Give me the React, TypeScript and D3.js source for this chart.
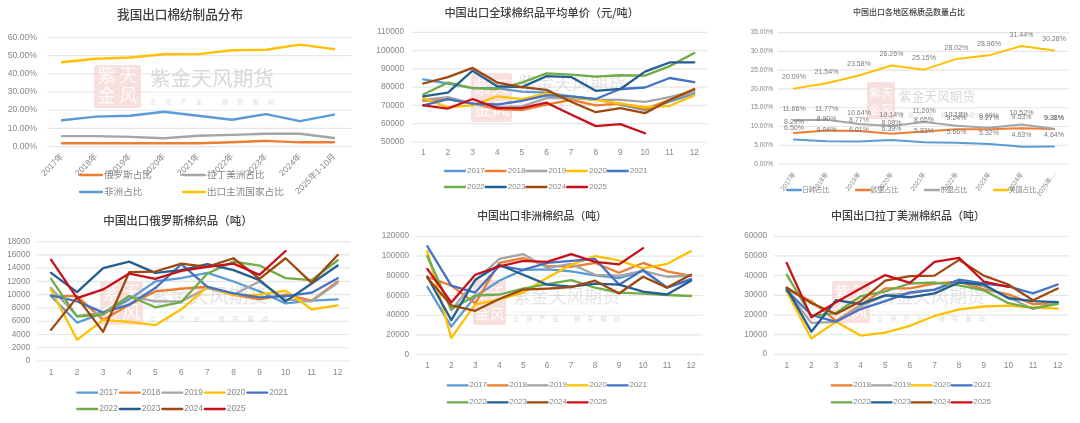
import React from 'react';
import * as d3 from 'd3';

const FONT = '"Liberation Sans", "Noto Sans CJK SC", sans-serif';
const NARROW = '"Liberation Sans Narrow", "Liberation Sans", "Noto Sans CJK SC", sans-serif';

const months = ['1','2','3','4','5','6','7','8','9','10','11','12'];
const years9 = ['2017年','2018年','2019年','2020年','2021年','2022年','2023年','2024年','2025年1-10月'];
const years9b = ['2017年','2018年','2019年','2020年','2021年','2022年','2023年','2024年','2025年…'];

const shareNames = ['俄罗斯占比','拉丁美洲占比','非洲占比','出口主流国家占比'];
const shareRussia = [1.9,1.9,1.9,1.9,1.9,2.4,3.2,2.4,2.4];
const shareLatam = [5.8,5.8,5.4,4.6,6,6.5,7.1,7.1,4.8];
const shareAfrica = [14.5,16.5,17,19.2,17,14.8,17.9,14,17.6];
const shareMain = [46.3,48.2,48.9,50.7,50.8,52.9,53.2,56,53.5];

const priceSeries = [
  [84.3,82,79.5,79.5,77.5,77,75,73.5,70.5,67.5,72,76.5],
  [72.5,73.5,71,68,67.5,70.5,73,70,71,68,73,78],
  [73,74.5,71,69,69.5,74,74,73,73,72,74.5,78],
  [74,69,70,75,73.5,76.5,74.5,73,71,69,69.8,75.5],
  [70,73.5,71,70.5,72.5,75.5,75,73.5,79,79.8,85,82.8],
  [76,82.5,79.5,79,82.5,87.5,86.8,85.8,86.5,86.3,91.5,98.7],
  [75,77,89,80.5,80,86,85.5,78,79,88.5,93.5,93.5],
  [82,85.5,90.5,82.5,80,78.5,72,66.3,68.5,65.8,73,79],
  [70,68.3,73.5,68.5,68.5,71.5,65,58.7,59.8,54.8],
];

const regionNames = ['日韩占比','欧盟占比','东盟占比','美国占比'];
const regionJapanKorea = [6.5,6.04,6.01,6.39,5.83,5.66,5.32,4.63,4.64];
const regionEU = [8.29,8.9,8.77,8.08,8.65,9.24,9.27,9.53,9.31];
const regionAsean = [11.66,11.77,10.64,10.14,11.2,10.18,9.69,10.52,9.38];
const regionUS = [20.09,21.54,23.58,26.26,25.15,28.02,28.96,31.44,30.28];

const russiaSeries = [
  [9.8,5.8,7.2,9.3,12,12.5,13.3,12,10.5,8.7,9.1,9.3],
  [9.8,9.8,6.2,8.5,10.5,10.9,11.2,10,9.3,10,9.1,12],
  [11,6.8,7.3,9.8,9,9,11,10,12,9.3,9,11.8],
  [10.8,3.2,6.2,5.9,5.4,7.8,11.2,9.9,10,10.6,7.8,8.4],
  [9.9,9,7.3,8.5,11,14.6,11.2,10.2,9.6,9.8,10.3,12.5],
  [12.4,6.7,7,9.8,8.1,8.9,13.2,15,14.4,12.5,12.2,15.2],
  [13.3,10.4,14,15,13.3,13.7,14.6,13.7,12.2,9,11.7,14.4],
  [4.7,9.6,4.4,13.4,13.5,14.7,14.2,15.5,12.4,15.5,11.8,16],
  [15.3,9.5,10.8,13.2,12.4,13.6,14.2,14.7,13,16.6],
];
const africaSeries = [
  [69,28.5,59,75,86,86.5,84.5,80.5,77.5,85,68,77],
  [79,70,52,93,98,90,89,93,83,93,84.5,80],
  [100,45,75,97,102,88,92,81,80,85,79,80],
  [105,17,51,56,63,78,91,100,95.5,87.5,92,105],
  [110,70,63,90,86,93,95,97,71,86,68,76],
  [100,46,60,61,67,71.5,75.5,68,63,62,60.5,59.5],
  [79,35,76,91,81,71,69,72,71,64,61,75],
  [78,50,44.5,56.5,66,67,68.5,75,62,79,68,81],
  [87,53,81,89.5,95,94,102,94,91.5,108],
];
const latamSeries = [
  [33,27,17,25,33.5,33.5,36,37,33,30.5,25.5,26],
  [32.5,16,16.5,24.5,30,31,33,37,34.5,29,23,26.5],
  [32,8,16.5,9.5,11,14.5,19.5,22.8,24.3,24.8,23.8,23.2],
  [32.5,20,16.5,23,27,31.5,32.8,38,36,34.5,31,35.5],
  [40.5,19.5,21,29.5,32,36,36.5,35,32.5,26,23.5,25.5],
  [33.5,11.5,27.5,25.5,30,29,31,36.5,35.5,28.5,27,26.5],
  [34,26,20.5,27,37.5,39.7,40,48,40,35.5,27.5,33.5],
  [46.5,18.8,26.5,33.5,40.3,36.3,47,49,37,34.3],
];

const yearNames = ['2017','2018','2019','2020','2021','2022','2023','2024','2025'];
const yearColors = ['#5B9BD5','#ED7D31','#A5A5A5','#FFC000','#4472C4','#70AD47','#255E91','#9E480E','#C8101A'];
const officeColors = ['#5B9BD5','#ED7D31','#A5A5A5','#FFC000'];
const shareColors = ['#ED7D31','#A5A5A5','#5B9BD5','#FFC000'];

const TICK = '#878787';
const GRID = '#e6e6e6';

function Watermark({ sx, sy, sw, sh, tx, tw, ty, subY, front }: any) {
  const fs = Math.min(sw, sh) * 0.42;
  return (
    <g style={{ pointerEvents: 'none' }}>
      <rect x={sx} y={sy} width={sw} height={sh} rx={2} fill="#f3d3d0" opacity={0.7} />
      {[['紫', 0, 0], ['天', 1, 0], ['金', 0, 1], ['风', 1, 1]].map(([c, i, j]: any) => (
        <text key={c} x={sx + sw * (0.27 + 0.46 * i)} y={sy + sh * (0.4 + 0.46 * j)} fontSize={fs}
          textAnchor="middle" fill="#fff" opacity={0.9} fontFamily='"Noto Sans CJK SC"' fontWeight={400}>{c}</text>
      ))}
      <text x={tx} y={ty} fontSize={tw / 6} fill="#cfcfcf" opacity={front ? 0.55 : 0.8} textLength={tw}
        fontFamily='"Noto Sans CJK SC"' fontWeight={400}>紫金天风期货</text>
      <line x1={tx} x2={tx + tw} y1={subY - 9} y2={subY - 9} stroke="#eeeeee" strokeWidth={0.7} />
      <text x={tx} y={subY} fontSize={6} fill="#d2d2d2" opacity={0.85} textLength={tw}
        fontFamily='"Noto Sans CJK SC"'>立足产业 研究驱动</text>
    </g>
  );
}

function Panel(p: any) {
  const x = d3.scalePoint<string>().domain(p.cats).range([p.x0, p.x1]);
  const y = d3.scaleLinear().domain(p.domain).range([p.yBottom, p.yTop]);
  const line = d3.line<number>().x((_, i) => x(p.cats[i]) as number).y((v) => y(v * p.unit));
  const ticks = d3.range(p.domain[0], p.domain[1] + p.step / 2, p.step);
  return (
    <g fontFamily={FONT}>
      <text x={p.titleX} y={p.titleY} fontSize={p.titleSize} fill="#404040" textAnchor="middle"
        dominantBaseline="middle" fontWeight={500} fontFamily='"Noto Sans CJK SC"'>{p.title}</text>
      {ticks.map((t: number) => (
        <g key={t}>
          <line x1={p.gridX0} x2={p.gridX1} y1={y(t)} y2={y(t)} stroke={GRID} strokeWidth={1.2} />
          <text x={p.tickX} y={y(t)} textAnchor="end" dominantBaseline="middle" fontSize={p.tickSize}
            fill={TICK} fontFamily={p.narrow ? NARROW : FONT}>{p.fmt(t)}</text>
        </g>
      ))}
      {p.watermark && <Watermark {...p.watermark} />}
      {p.series.map((s: number[], i: number) => (
        <path key={i} d={line(s) as string} fill="none" stroke={p.colors[i]} strokeWidth={p.lw || 2.3}
          strokeLinejoin="round" strokeLinecap="round" />
      ))}
      {p.dataLabels && p.series.map((s: number[], i: number) => s.map((v, j) => (
        <text key={`${i}-${j}`} x={x(p.cats[j])} y={y(v) - 11} textAnchor="middle" dominantBaseline="middle"
          fontSize={7} fill="#7a7a7a" fontFamily={NARROW}>{v.toFixed(2)}%</text>
      )))}
      {p.cats.map((c: string) => p.rotate ? (
        <text key={c} transform={`translate(${(x(c) as number) + p.rotOff},${p.xLabelY}) rotate(${p.rotate})`}
          textAnchor="end" fontSize={p.xSize} fill={TICK} fontFamily={p.narrow ? NARROW : FONT}>{c}</text>
      ) : (
        <text key={c} x={x(c)} y={p.xLabelY} textAnchor="middle" dominantBaseline="middle" fontSize={p.xSize}
          fill={TICK}>{c}</text>
      ))}
      {p.legend.map((l: any) => (
        <g key={l.name}>
          <line x1={l.x} x2={l.x + p.legLine} y1={l.y} y2={l.y} stroke={l.color} strokeWidth={2.3} strokeLinecap="round" />
          <text x={l.x + p.legLine + p.legGap} y={l.y} dominantBaseline="middle" fontSize={p.legSize} fill={TICK}>{l.name}</text>
        </g>
      ))}
    </g>
  );
}

function yearLegend(start: number, step: number, y1: number, y2: number, from: number, firstRow: number) {
  return yearNames.slice(from).map((name, i) => ({
    name,
    color: yearColors[i + from],
    x: start + step * (i < firstRow ? i : i - firstRow),
    y: i < firstRow ? y1 : y2,
  }));
}

const num = (t: number) => String(t);
const pct = (t: number) => `${t.toFixed(2)}%`;

export default function App() {
  return (
    <svg width={1080} height={423} style={{ position: 'fixed', left: 0, top: 0, background: '#fff', filter: 'blur(0.45px)' }}>
      <Panel title="我国出口棉纺制品分布" titleX={180} titleY={16} titleSize={12.6}
        cats={years9} x0={62} x1={334} domain={[0, 60]} step={10} yTop={37.3} yBottom={146.7}
        gridX0={47} gridX1={351} tickX={37} tickSize={8.6} fmt={pct} unit={1} lw={2.4}
        series={[shareRussia, shareLatam, shareAfrica, shareMain]} colors={shareColors}
        rotate={-45} rotOff={2} xLabelY={157} xSize={8.5}
        legLine={22} legGap={2} legSize={9.6}
        legend={[
          { name: shareNames[0], color: shareColors[0], x: 80, y: 175 },
          { name: shareNames[1], color: shareColors[1], x: 183, y: 175 },
          { name: shareNames[2], color: shareColors[2], x: 80, y: 192 },
          { name: shareNames[3], color: shareColors[3], x: 183, y: 192 },
        ]}
        watermark={{ sx: 94, sy: 65, sw: 47, sh: 43, tx: 150, tw: 124, ty: 86, subY: 104 }} />

      <Panel title="中国出口全球棉织品平均单价（元/吨）" titleX={541.7} titleY={14} titleSize={11.2}
        cats={months} x0={423.3} x1={694.3} domain={[50000, 110000]} step={10000} yTop={32.3} yBottom={142}
        gridX0={412} gridX1={707} tickX={404} tickSize={8.3} fmt={num} unit={1000}
        series={priceSeries} colors={yearColors}
        xLabelY={153} xSize={8.3} legLine={20} legGap={2} legSize={8}
        legend={yearLegend(445, 40.7, 171, 187, 0, 5)}
        watermark={{ sx: 471, sy: 73, sw: 41, sh: 49, tx: 518, tw: 108, ty: 90, subY: 107, front: true }} />

      <Panel title="中国出口各地区棉质品数量占比" titleX={909} titleY={13} titleSize={8}
        cats={years9b} x0={794} x1={1054} domain={[0, 35]} step={5} yTop={32.7} yBottom={164}
        gridX0={778} gridX1={1069} tickX={773} tickSize={6.6} fmt={pct} unit={1} narrow dataLabels lw={2}
        series={[regionJapanKorea, regionEU, regionAsean, regionUS]} colors={officeColors}
        rotate={-55} rotOff={2} xLabelY={174} xSize={6.6}
        legLine={14} legGap={1} legSize={6.8}
        legend={[
          { name: regionNames[0], color: officeColors[0], x: 787, y: 190 },
          { name: regionNames[1], color: officeColors[1], x: 856, y: 190 },
          { name: regionNames[2], color: officeColors[2], x: 925, y: 190 },
          { name: regionNames[3], color: officeColors[3], x: 994, y: 190 },
        ]}
        watermark={{ sx: 867, sy: 82, sw: 28, sh: 37, tx: 899, tw: 76, ty: 101, subY: 117 }} />

      <Panel title="中国出口俄罗斯棉织品（吨）" titleX={178} titleY={222} titleSize={11.5}
        cats={months} x0={51} x1={337.7} domain={[0, 18000]} step={2000} yTop={241.7} yBottom={361}
        gridX0={37} gridX1={350} tickX={30} tickSize={8.2} fmt={num} unit={1000}
        series={russiaSeries} colors={yearColors}
        xLabelY={373} xSize={8.3} legLine={20} legGap={2} legSize={8.3}
        legend={yearLegend(77.3, 42.5, 392.7, 409, 0, 5)}
        watermark={{ sx: 100, sy: 282, sw: 43, sh: 43, tx: 150, tw: 118, ty: 303, subY: 321, front: true }} />

      <Panel title="中国出口非洲棉织品（吨）" titleX={542} titleY={216.7} titleSize={10.8}
        cats={months} x0={427.3} x1={691} domain={[0, 120000]} step={20000} yTop={236.3} yBottom={354.7}
        gridX0={415.7} gridX1={702.7} tickX={409} tickSize={8.2} fmt={num} unit={1000}
        series={africaSeries} colors={yearColors}
        xLabelY={366} xSize={8.3} legLine={20} legGap={1.5} legSize={8}
        legend={yearLegend(447.7, 40, 385.3, 402.3, 0, 5)}
        watermark={{ sx: 473, sy: 280, sw: 33, sh: 45, tx: 513, tw: 107, ty: 303, subY: 321, front: true }} />

      <Panel title="中国出口拉丁美洲棉织品（吨）" titleX={908} titleY={216.7} titleSize={11}
        cats={months} x0={786.7} x1={1057.7} domain={[0, 60000]} step={10000} yTop={236.3} yBottom={354.3}
        gridX0={774} gridX1={1069} tickX={767} tickSize={8.2} fmt={num} unit={1000}
        series={latamSeries} colors={yearColors.slice(1)}
        xLabelY={366} xSize={8.3} legLine={20} legGap={1.5} legSize={8}
        legend={yearLegend(831.7, 40, 385.3, 402.3, 1, 4)}
        watermark={{ sx: 832, sy: 281, sw: 38, sh: 42, tx: 877, tw: 108, ty: 303, subY: 321, front: true }} />
    </svg>
  );
}
